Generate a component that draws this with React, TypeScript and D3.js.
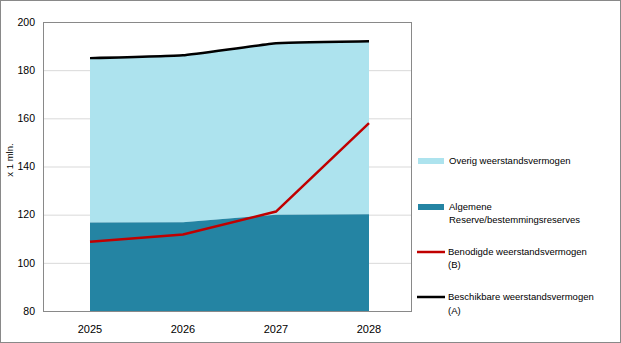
import React from "react";
import * as d3 from "d3";

const years = ["2025", "2026", "2027", "2028"];
const algemeneReserve = [116.7, 116.8, 120.0, 120.2];
const beschikbaar = [185, 186.2, 191.2, 192];
const benodigd = [108.8, 111.8, 121.3, 158];
const yTicks = [80, 100, 120, 140, 160, 180, 200];

const W = 621, H = 343;
const left = 43, right = 411, top = 22, bottom = 311;
const font = "'Liberation Sans', Arial, sans-serif";

export default function App() {
  const x = d3.scalePoint<string>().domain(years).range([90, 369]);
  const y = d3.scaleLinear().domain([80, 200]).range([bottom, top]);

  const darkArea = d3.area<number>()
    .x((_, i) => x(years[i])!)
    .y0(y(80))
    .y1((d) => y(d));
  const lightArea = d3.area<number>()
    .x((_, i) => x(years[i])!)
    .y0((_, i) => y(algemeneReserve[i]))
    .y1((d) => y(d));
  const blackLine = d3.line<number>()
    .x((_, i) => x(years[i])!)
    .y((d) => y(d))
    .curve(d3.curveCardinal.tension(0.7));
  const redLine = d3.line<number>()
    .x((_, i) => x(years[i])!)
    .y((d) => y(d));

  const legendX = 418;
  const textX = 449;

  return (
    <div style={{ position: "absolute", left: 0, top: 0 }}>
      <svg width={W} height={H} style={{ display: "block", fontFamily: font }}>
        <rect x={0} y={0} width={W} height={H} fill="#fff" />
        <rect x={0.5} y={0.5} width={W - 1} height={H - 1} fill="none" stroke="#898989" />
        {yTicks.map((t) => (
          <g key={t}>
            {t !== 80 && t !== 200 && (
              <line x1={left} x2={right} y1={y(t) + 0.5} y2={y(t) + 0.5} stroke="#d9d9d9" />
            )}
            <text x={35} y={y(t)} dy="0.35em" textAnchor="end" fontSize={10.5} fill="#000">{t}</text>
          </g>
        ))}
        <path d={lightArea(beschikbaar)!} fill="#ade3ee" />
        <path d={darkArea(algemeneReserve)!} fill="#2484a3" />
        <path d={redLine(benodigd)!} fill="none" stroke="#c00000" strokeWidth={2.5} />
        <path d={blackLine(beschikbaar)!} fill="none" stroke="#000" strokeWidth={2.5} />
        <rect x={left + 0.5} y={top + 0.5} width={right - left} height={bottom - top} fill="none" stroke="#898989" />
        {years.map((yr) => (
          <text key={yr} x={x(yr)!} y={333} textAnchor="middle" fontSize={11} fill="#000">{yr}</text>
        ))}
        <text transform={`translate(13,160) rotate(-90)`} textAnchor="middle" fontSize={9.5} fill="#000">x 1 mln.</text>

        <rect x={legendX} y={158} width={26} height={6} fill="#ade3ee" />
        <text x={textX} y={161} dy="0.35em" fontSize={9.5}>Overig weerstandsvermogen</text>

        <rect x={legendX} y={204} width={26} height={6} fill="#2484a3" />
        <text x={textX} y={207} dy="0.35em" fontSize={9.5}>Algemene</text>
        <text x={textX} y={220} dy="0.35em" fontSize={9.5}>Reserve/bestemmingsreserves</text>

        <line x1={legendX - 1} x2={legendX + 27} y1={252} y2={252} stroke="#c00000" strokeWidth={2.5} />
        <text x={textX - 1} y={252} dy="0.35em" fontSize={9.5}>Benodigde weerstandsvermogen</text>
        <text x={textX - 1} y={265} dy="0.35em" fontSize={9.5}>(B)</text>

        <line x1={legendX - 1} x2={legendX + 27} y1={297} y2={297} stroke="#000" strokeWidth={2.5} />
        <text x={textX - 1} y={297} dy="0.35em" fontSize={9.5}>Beschikbare weerstandsvermogen</text>
        <text x={textX - 1} y={311} dy="0.35em" fontSize={9.5}>(A)</text>
      </svg>
    </div>
  );
}
